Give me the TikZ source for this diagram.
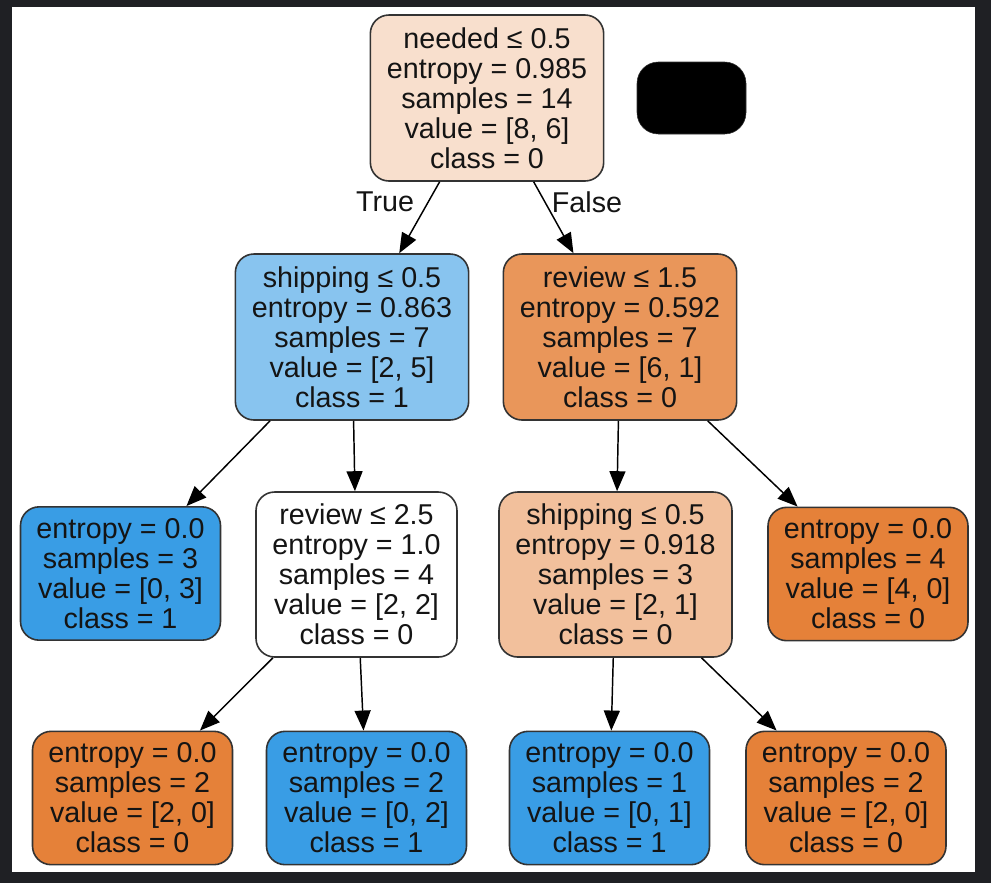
\documentclass[tikz,border=0pt]{standalone}
\usepackage{fontspec}
\setmainfont{Liberation Sans}
\usetikzlibrary{arrows.meta}
\definecolor{frame}{HTML}{1F2024}
\definecolor{edgegray}{HTML}{333333}
\definecolor{mix25o}{HTML}{F8DFCD}
\definecolor{mix60b}{HTML}{88C4EF}
\definecolor{mix83o}{HTML}{E9965A}
\definecolor{mix50o}{HTML}{F2C09C}
\definecolor{pureo}{HTML}{E58139}
\definecolor{pureb}{HTML}{399DE5}
\tikzset{
  treenode/.style={draw=edgegray, line width=1.2pt, rounded corners=14pt,
    inner sep=0pt, align=center, text=black!92,
    font=\fontsize{21.5}{22.5}\selectfont},
  wide/.style={minimum width=175pt, minimum height=124.5pt},
  split/.style={minimum width=150.75pt, minimum height=123.75pt},
  leaf/.style={minimum width=150pt, minimum height=100pt},
  link/.style={draw=black, line width=1.1pt, -{Triangle[length=15pt,width=12pt]}},
  edgelabel/.style={font=\fontsize{21.5}{22.5}\selectfont, text=black!92}
}
\begin{document}
\begin{tikzpicture}[x=0.75pt,y=-0.75pt]
% frame and canvas
\fill[frame] (0,0) rectangle (991,883);
\fill[white] (12,7) rectangle (975,872);
\useasboundingbox (0,0) rectangle (991,883);

% root
\node[treenode, wide, fill=mix25o] (root) at (487,98)
  {needed ≤ 0.5\\entropy = 0.985\\samples = 14\\value = [8, 6]\\class = 0};
\node[draw=edgegray, fill=black, rounded corners=16pt, minimum width=81.75pt,
  minimum height=54pt, inner sep=0pt] (blank) at (691.5,98) {};

% first split
\node[treenode, wide, fill=mix60b] (shipA) at (352,337)
  {shipping ≤ 0.5\\entropy = 0.863\\samples = 7\\value = [2, 5]\\class = 1};
\node[treenode, wide, fill=mix83o] (revA) at (620,337)
  {review ≤ 1.5\\entropy = 0.592\\samples = 7\\value = [6, 1]\\class = 0};

% second level
\node[treenode, leaf, fill=pureb] (leafA) at (120.5,573.5)
  {entropy = 0.0\\samples = 3\\value = [0, 3]\\class = 1};
\node[treenode, split, fill=white] (revB) at (356.5,574.5)
  {review ≤ 2.5\\entropy = 1.0\\samples = 4\\value = [2, 2]\\class = 0};
\node[treenode, split, minimum width=174.75pt, fill=mix50o] (shipB) at (615.5,574.5)
  {shipping ≤ 0.5\\entropy = 0.918\\samples = 3\\value = [2, 1]\\class = 0};
\node[treenode, leaf, fill=pureo] (leafD) at (868,574)
  {entropy = 0.0\\samples = 4\\value = [4, 0]\\class = 0};

% third level
\node[treenode, leaf, fill=pureo] (leafE) at (132.5,798)
  {entropy = 0.0\\samples = 2\\value = [2, 0]\\class = 0};
\node[treenode, leaf, fill=pureb] (leafF) at (366.5,798)
  {entropy = 0.0\\samples = 2\\value = [0, 2]\\class = 1};
\node[treenode, leaf, fill=pureb] (leafG) at (609.5,798)
  {entropy = 0.0\\samples = 1\\value = [0, 1]\\class = 1};
\node[treenode, leaf, fill=pureo] (leafH) at (846,798)
  {entropy = 0.0\\samples = 2\\value = [2, 0]\\class = 0};

% connectors
\draw[link] (root) -- (shipA);
\draw[link] (root) -- (revA);
\draw[link] (shipA) -- (leafA);
\draw[link] (shipA) -- (revB);
\draw[link] (revA) -- (shipB);
\draw[link] (revA) -- (leafD);
\draw[link] (revB) -- (leafE);
\draw[link] (revB) -- (leafF);
\draw[link] (shipB) -- (leafG);
\draw[link] (shipB) -- (leafH);

% branch labels
\node[edgelabel] (lt) at (385,202) {True};
\node[edgelabel] (lf) at (587,202) {False};
\end{tikzpicture}
\end{document}
